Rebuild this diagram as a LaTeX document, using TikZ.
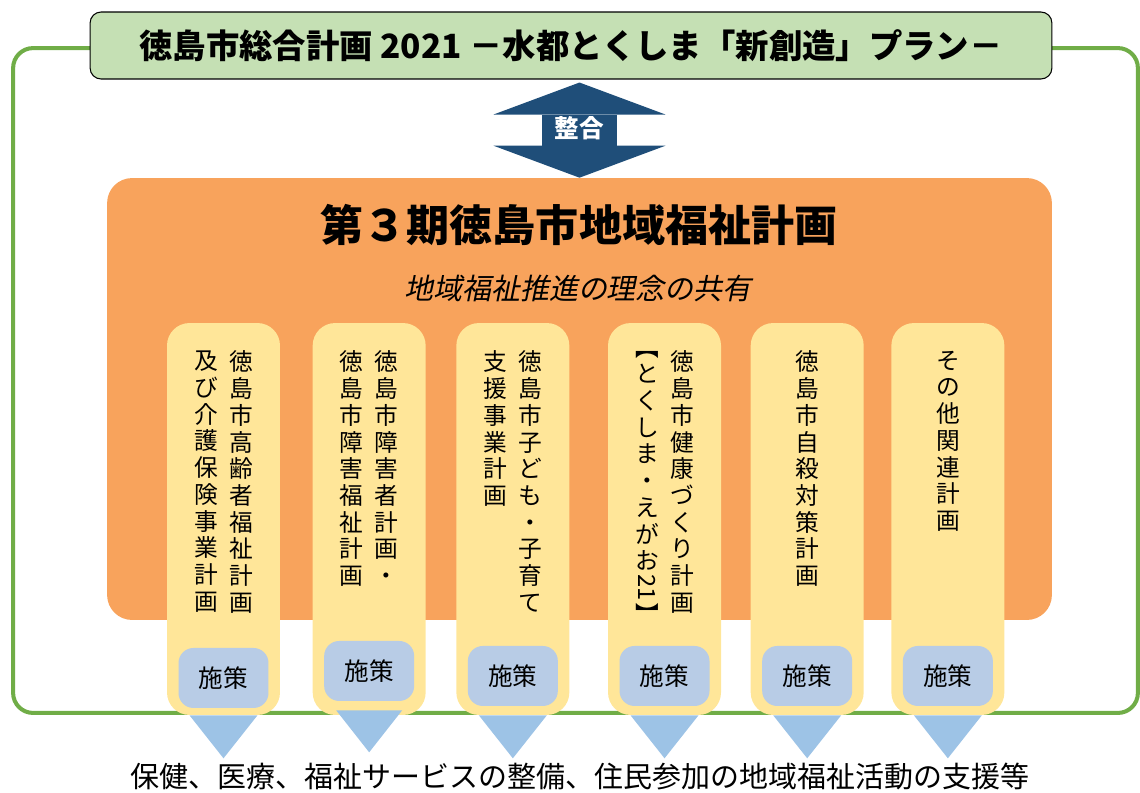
\documentclass[tikz,border=0pt]{standalone}
\usepackage{fontspec}
\usepackage{graphicx}
\setmainfont{Noto Sans CJK JP}
\newfontfamily\slantjp{Noto Sans CJK JP}[FakeSlant=0.2]
\usetikzlibrary{positioning,arrows.meta}

\definecolor{frameGreen}{HTML}{70AD47}
\definecolor{titleGreen}{HTML}{C5E0B4}
\definecolor{arrowBlue}{HTML}{1F4E79}
\definecolor{planOrange}{HTML}{F8A35C}
\definecolor{colYellow}{HTML}{FFE699}
\definecolor{measBlue}{HTML}{B8CCE6}
\definecolor{triBlue}{HTML}{9DC3E6}

\newcommand{\yoko}[1]{\rotatebox[origin=c]{-90}{#1}}

\tikzset{
  outerframe/.style={draw=frameGreen, line width=2.3pt, rounded corners=0.4cm},
  titlebox/.style={draw=black, fill=titleGreen, line width=0.6pt, rounded corners=0.22cm,
    font=\bfseries\fontsize{19}{22}\selectfont},
  planbox/.style={fill=planOrange, rounded corners=0.5cm},
  colbox/.style={fill=colYellow, rounded corners=0.45cm, minimum width=2.26cm, minimum height=7.84cm},
  tate/.style={align=center, inner sep=0pt, font=\fontsize{13.5}{15.2}\selectfont},
  measure/.style={fill=measBlue, rounded corners=0.3cm, minimum width=1.8cm, minimum height=1.2cm,
    font=\fontsize{14}{16}\selectfont},
  tri/.style={fill=triBlue}
}

\begin{document}
\begin{tikzpicture}[x=0.02cm, y=-0.02cm]
    \useasboundingbox (0,0) rectangle (1140,792);

    % Outer frame
    \node[outerframe, minimum width=22.5cm, minimum height=13.3cm] (outer) at (575.5,380.5) {};

    % General plan of the city
    \node[titlebox, minimum width=19.24cm, minimum height=1.34cm] (master) at (571,45.5) {徳島市総合計画 2021 －水都とくしま「新創造」プラン－};

    % Welfare plan
    \node[planbox, minimum width=18.9cm, minimum height=8.84cm] (plan) at (579.5,399) {};
    \node[font=\bfseries\fontsize{24.5}{28}\selectfont] (plantitle) at (579,225) {第３期徳島市地域福祉計画};
    \node[font=\slantjp\fontsize{16.5}{19}\selectfont] (idea) at (578,288) {地域福祉推進の理念の共有};

    % Alignment arrow
    \draw[arrowBlue, line width=1.5cm,
      {Triangle[length=0.64cm, width=3.44cm, line width=0pt]}-{Triangle[length=0.64cm, width=3.44cm, line width=0pt]},
      shorten <=0.06cm] (plan.north |- master.south) -- node[text=white, font=\bfseries\fontsize{14}{16}\selectfont] (align) {整合} (plan.north);

    % Related plans
    \node[colbox] (welfare1) at (223.5,519) {};
    \node[colbox, right=0.64cm of welfare1] (welfare2) {};
    \node[colbox, right=0.60cm of welfare2] (welfare3) {};
    \node[colbox, right=0.76cm of welfare3] (welfare4) {};
    \node[colbox, right=0.58cm of welfare4] (welfare5) {};
    \node[colbox, right=0.54cm of welfare5] (welfare6) {};

    % Vertical titles
    \node[tate, below=0.56cm of welfare1.north, xshift=0.35cm] (t1a) {徳\\島\\市\\高\\齢\\者\\福\\祉\\計\\画};
    \node[tate, below=0.56cm of welfare1.north, xshift=-0.35cm] (t1b) {及\\び\\介\\護\\保\\険\\事\\業\\計\\画};
    \node[tate, below=0.56cm of welfare2.north, xshift=0.35cm] (t2a) {徳\\島\\市\\障\\害\\者\\計\\画\\・};
    \node[tate, below=0.56cm of welfare2.north, xshift=-0.35cm] (t2b) {徳\\島\\市\\障\\害\\福\\祉\\計\\画};
    \node[tate, below=0.56cm of welfare3.north, xshift=0.35cm] (t3a) {徳\\島\\市\\子\\ど\\も\\・\\子\\育\\て};
    \node[tate, below=0.56cm of welfare3.north, xshift=-0.35cm] (t3b) {支\\援\\事\\業\\計\\画};
    \node[tate, below=0.56cm of welfare4.north, xshift=0.35cm] (t4a) {徳\\島\\市\\健\\康\\づ\\く\\り\\計\\画};
    \node[tate, below=0.56cm of welfare4.north, xshift=-0.35cm] (t4b) {︻\\と\\く\\し\\ま\\・\\え\\が\\お\\\yoko{21}\\︼};
    \node[tate, below=0.56cm of welfare5.north] (t5) {徳\\島\\市\\自\\殺\\対\\策\\計\\画};
    \node[tate, below=0.56cm of welfare6.north] (t6) {そ\\の\\他\\関\\連\\計\\画};

    % Measures
    \node[measure, above=0.14cm of welfare1.south] (m1) {施策};
    \node[measure, above=0.28cm of welfare2.south] (m2) {施策};
    \node[measure, above=0.18cm of welfare3.south] (m3) {施策};
    \node[measure, above=0.18cm of welfare4.south] (m4) {施策};
    \node[measure, above=0.18cm of welfare5.south] (m5) {施策};
    \node[measure, above=0.18cm of welfare6.south] (m6) {施策};

    % Triangles
    \fill[tri] ([xshift=-0.68cm]welfare1.south) -- ([xshift=0.68cm]welfare1.south) -- ([yshift=-0.86cm]welfare1.south) -- cycle;
    \fill[tri] ([xshift=-0.66cm, yshift=0.1cm]welfare2.south) -- ([xshift=0.66cm, yshift=0.1cm]welfare2.south) -- ([yshift=-0.74cm]welfare2.south) -- cycle;
    \fill[tri] ([xshift=-0.68cm]welfare3.south) -- ([xshift=0.68cm]welfare3.south) -- ([yshift=-0.86cm]welfare3.south) -- cycle;
    \fill[tri] ([xshift=-0.68cm]welfare4.south) -- ([xshift=0.68cm]welfare4.south) -- ([yshift=-0.86cm]welfare4.south) -- cycle;
    \fill[tri] ([xshift=-0.68cm]welfare5.south) -- ([xshift=0.68cm]welfare5.south) -- ([yshift=-0.86cm]welfare5.south) -- cycle;
    \fill[tri] ([xshift=-0.68cm]welfare6.south) -- ([xshift=0.68cm]welfare6.south) -- ([yshift=-0.86cm]welfare6.south) -- cycle;

    % Effects
    \node[font=\fontsize{16.5}{20}\selectfont] (effects) at (580,776) {保健、医療、福祉サービスの整備、住民参加の地域福祉活動の支援等};

\end{tikzpicture}
\end{document}
